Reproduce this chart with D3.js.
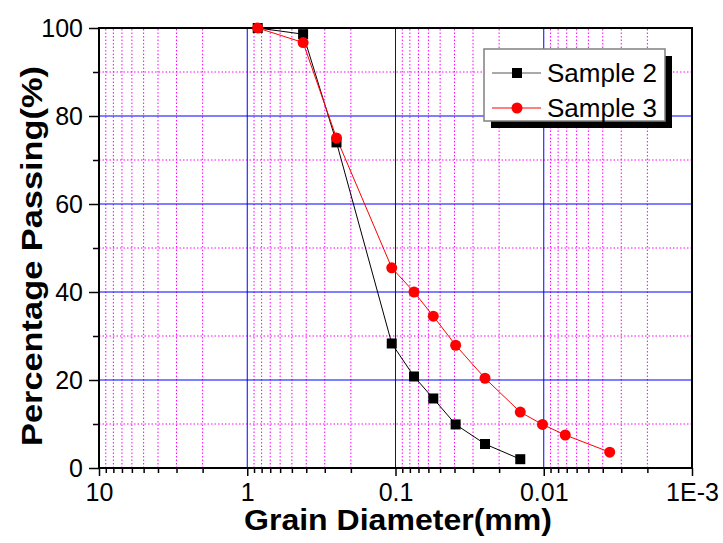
<!DOCTYPE html>
<html>
<head>
<meta charset="utf-8">
<script src="https://cdn.jsdelivr.net/npm/d3@7"></script>
<style>
  body { margin: 0; background: #fff; }
  text { font-family: "Liberation Sans", Arial, sans-serif; }
</style>
</head>
<body>
<script>
const width = 723;
const height = 543;
const margin = {top: 28, right: 31, bottom: 75, left: 99};

// grain size (mm) and percentage passing
const diam2 = [0.85, 0.42, 0.25, 0.106, 0.075, 0.0556, 0.0393, 0.0249, 0.0144];
const pass2 = [100, 98.6, 74, 28.3, 20.8, 15.8, 9.9, 5.45, 2.0];
const diam3 = [0.85, 0.42, 0.25, 0.106, 0.075, 0.0556, 0.0393, 0.0249, 0.0144, 0.0102, 0.00716, 0.00359];
const pass3 = [100, 96.7, 75, 45.5, 40, 34.5, 27.9, 20.4, 12.7, 9.9, 7.5, 3.6];
const xTickVals = [10, 1, 0.1, 0.01, 0.001];
const xTickLabels = ['10', '1', '0.1', '0.01', '1E-3'];
const yTickVals = [0, 20, 40, 60, 80, 100];
const seriesNames = ['Sample 2', 'Sample 3'];

const svg = d3.select('body')
  .append('svg')
  .attr('width', width)
  .attr('height', height)

const x = d3.scaleLog()
  .domain([10, 0.001])
  .range([margin.left, width - margin.right])
const y = d3.scaleLinear()
  .domain([0, 100])
  .range([height - margin.bottom, margin.top])

const x0 = margin.left, x1 = width - margin.right;
const y0 = height - margin.bottom, y1 = margin.top;

// minor values 2..9 per decade
let minorX = [];
[0.001, 0.01, 0.1, 1].forEach(d => {
  for (let k = 2; k <= 9; k++) minorX.push(d * k);
});
const minorY = [10, 30, 50, 70, 90];

const grid = svg.append('g');
grid.selectAll('.mx').data(minorX).enter().append('line')
  .attr('x1', d => x(d)).attr('x2', d => x(d))
  .attr('y1', y0).attr('y2', y1)
  .attr('stroke', '#ff00ff').attr('stroke-width', 1)
  .attr('stroke-dasharray', '1.5,2')
grid.selectAll('.my').data(minorY).enter().append('line')
  .attr('x1', x0).attr('x2', x1)
  .attr('y1', d => y(d)).attr('y2', d => y(d))
  .attr('stroke', '#ff00ff').attr('stroke-width', 1)
  .attr('stroke-dasharray', '1.5,2')
grid.selectAll('.Mx').data([1, 0.1, 0.01]).enter().append('line')
  .attr('x1', d => x(d)).attr('x2', d => x(d))
  .attr('y1', y0).attr('y2', y1)
  .attr('stroke', '#0000ff').attr('stroke-width', 1)
grid.selectAll('.My').data([20, 40, 60, 80]).enter().append('line')
  .attr('x1', x0).attr('x2', x1)
  .attr('y1', d => y(d)).attr('y2', d => y(d))
  .attr('stroke', '#0000ff').attr('stroke-width', 1)

// axes
const xAxis = d3.axisBottom(x)
  .tickValues(xTickVals)
  .tickFormat((d, i) => xTickLabels[i])
  .tickSize(8)
  .tickPadding(7)
const gx = svg.append('g')
  .attr('transform', `translate(0,${y0})`)
  .call(xAxis)
const gxMinor = svg.append('g')
  .attr('transform', `translate(0,${y0})`)
  .call(d3.axisBottom(x).tickValues(minorX).tickFormat('').tickSize(5))

const yAxis = d3.axisLeft(y)
  .tickValues(yTickVals)
  .tickSize(10)
  .tickPadding(6)
const gy = svg.append('g')
  .attr('transform', `translate(${x0},0)`)
  .call(yAxis)
const gyMinor = svg.append('g')
  .attr('transform', `translate(${x0},0)`)
  .call(d3.axisLeft(y).tickValues(minorY).tickFormat('').tickSize(6))

;[gx, gxMinor, gy, gyMinor].forEach(g => {
  g.select('.domain').remove();
  g.selectAll('line').attr('stroke', '#000').attr('stroke-width', 1.5);
  g.selectAll('text').attr('font-size', 25).attr('fill', '#000')
    .style('font-family', '"Liberation Sans", Arial, sans-serif');
});

// frame
svg.append('rect')
  .attr('x', x0).attr('y', y1)
  .attr('width', x1 - x0).attr('height', y0 - y1)
  .attr('fill', 'none').attr('stroke', '#000').attr('stroke-width', 2)

// lines
const line = d3.line().x(d => x(d[0])).y(d => y(d[1]));
const s2 = diam2.map((d, i) => [d, pass2[i]]);
const s3 = diam3.map((d, i) => [d, pass3[i]]);

svg.append('path').datum(s2)
  .attr('d', line).attr('fill', 'none').attr('stroke', '#000').attr('stroke-width', 1)
svg.append('path').datum(s3)
  .attr('d', line).attr('fill', 'none').attr('stroke', '#ff0000').attr('stroke-width', 1)

svg.selectAll('.sq').data(s2).enter().append('rect')
  .attr('x', d => x(d[0]) - 5).attr('y', d => y(d[1]) - 5)
  .attr('width', 10).attr('height', 10).attr('fill', '#000')
svg.selectAll('.ci').data(s3).enter().append('circle')
  .attr('cx', d => x(d[0])).attr('cy', d => y(d[1]))
  .attr('r', 5.5).attr('fill', '#ff0000')

// legend
const lg = svg.append('g').attr('transform', 'translate(484,49)');
lg.append('rect').attr('x', 7).attr('y', 7).attr('width', 181).attr('height', 72).attr('fill', '#000')
lg.append('rect').attr('x', 0).attr('y', 0).attr('width', 181).attr('height', 72)
  .attr('fill', '#fff').attr('stroke', '#808080').attr('stroke-width', 1.5)
const colors = ['#000', '#ff0000'];
seriesNames.forEach((name, i) => {
  const ly = 24 + i * 35;
  lg.append('line').attr('x1', 8).attr('x2', 57).attr('y1', ly).attr('y2', ly)
    .attr('stroke', i === 0 ? '#555' : '#ff0000').attr('stroke-width', 1)
  if (i === 0) {
    lg.append('rect').attr('x', 28).attr('y', ly - 5).attr('width', 10).attr('height', 10).attr('fill', '#000')
  } else {
    lg.append('circle').attr('cx', 33).attr('cy', ly).attr('r', 5.5).attr('fill', '#ff0000')
  }
  lg.append('text').attr('x', 63).attr('y', ly + 9).attr('font-size', 26).attr('fill', '#000').text(name)
});

// titles
svg.append('text')
  .attr('x', 398).attr('y', 530)
  .attr('text-anchor', 'middle')
  .attr('font-size', 29).attr('font-weight', 'bold')
  .attr('textLength', 308).attr('lengthAdjust', 'spacingAndGlyphs')
  .text('Grain Diameter(mm)')
svg.append('text')
  .attr('transform', 'translate(42,256) rotate(-90)')
  .attr('text-anchor', 'middle')
  .attr('font-size', 29).attr('font-weight', 'bold')
  .attr('textLength', 380).attr('lengthAdjust', 'spacingAndGlyphs')
  .text('Percentage Passing(%)')
</script>
</body>
</html>
